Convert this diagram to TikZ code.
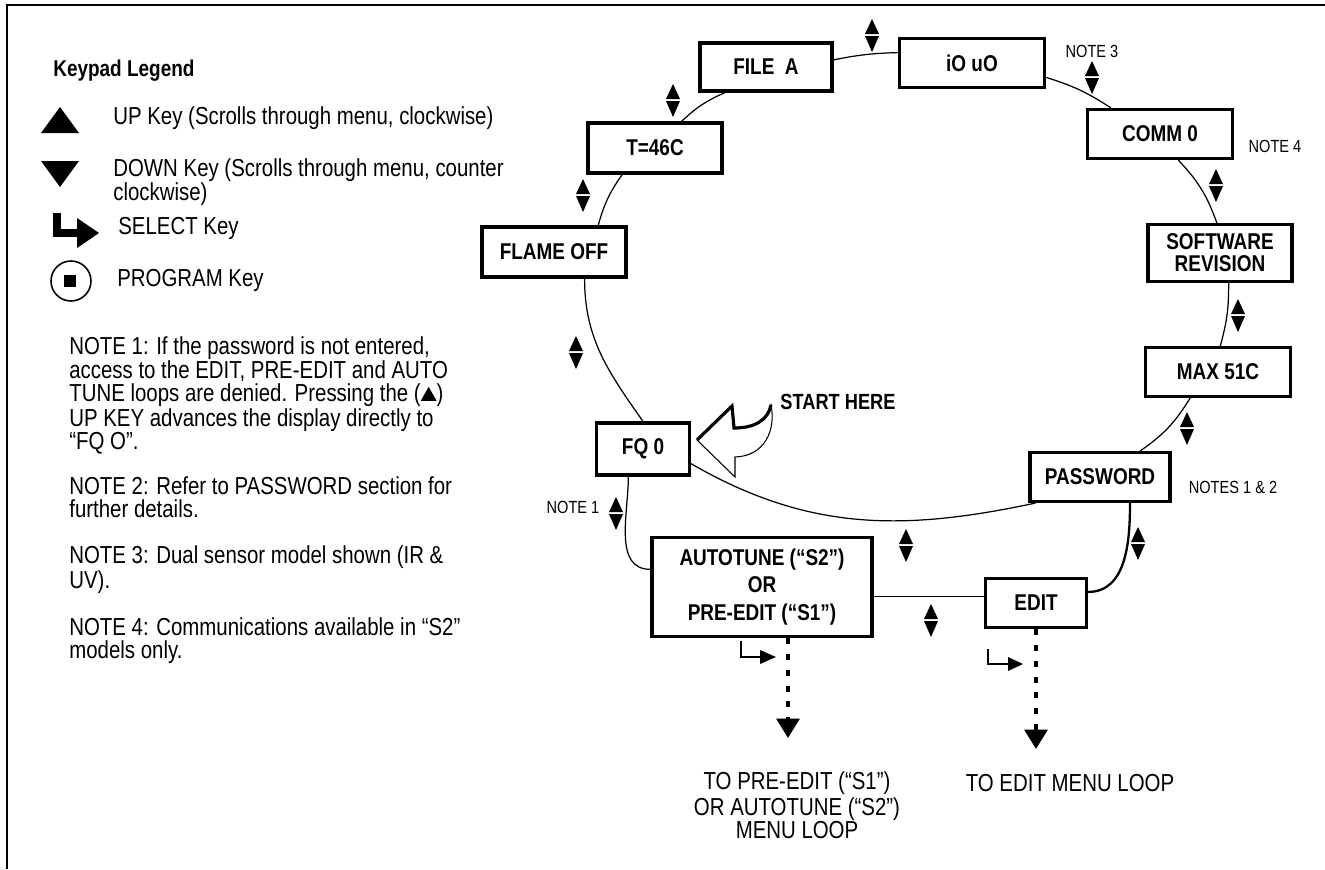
\documentclass[tikz,border=0pt]{standalone}
\usepackage{fontspec}
\setmainfont{Liberation Sans}[FakeStretch=0.83]
\usetikzlibrary{arrows.meta}
\tikzset{updown/.pic={
    \fill (-7,1) -- (7,1) -- (0,16) -- cycle;
    \fill (-7,-1) -- (7,-1) -- (0,-17) -- cycle;}}
\begin{document}
\begin{tikzpicture}[x=0.02cm,y=0.02cm]
        \tikzstyle{disp} = [rectangle, draw=black, line width=1.8pt, inner sep=0pt, align=center, font=\fontsize{13}{15}\selectfont\bfseries]
        \tikzstyle{loop} = [line width=0.7pt]
        \tikzstyle{note} = [font=\fontsize{10}{12}\selectfont]
        \tikzstyle{txt} = [font=\fontsize{14}{13}\selectfont, align=left, inner sep=0pt]
        \tikzstyle{togo} = [line width=2pt, dash pattern=on 3.5pt off 5.5pt, -{Triangle[width=13pt,length=11pt]}]
        \useasboundingbox (0,0) rectangle (1325,-869);
        \draw[line width=1.2pt] (7,-869) -- (7,-5) -- (1325,-5);
        % legend
        \node (leg) [txt, anchor=west, font=\fontsize{13}{13}\selectfont\bfseries] at (53,-71) {Keypad Legend};
        \fill (41,-133) -- (79,-133) -- (60,-107) -- cycle;
        \node (upk) [txt, anchor=west] at (113,-118) {UP Key (Scrolls through menu, clockwise)};
        \fill (41,-161) -- (79,-161) -- (60,-187) -- cycle;
        \node (dnk) [txt, anchor=west, font=\fontsize{14}{12}\selectfont] at (113,-182) {DOWN Key (Scrolls through menu, counter\\clockwise)};
        \draw[line width=4pt] (57,-213) |- (80,-233);
        \fill (77,-218) -- (99,-233) -- (77,-248) -- cycle;
        \node (selk) [txt, anchor=west] at (118,-228) {SELECT Key};
        \draw[line width=0.9pt] (71,-281) circle (0.4cm);
        \fill (64,-275) rectangle (76,-287);
        \node (prgk) [txt, anchor=west] at (117,-280) {PROGRAM Key};
        \node (notes) [txt, anchor=north west] at (69,-336) {NOTE 1: If the password is not entered,\\
            access to the EDIT, PRE-EDIT and AUTO\\
            TUNE loops are denied. Pressing the (\raisebox{0.5pt}{\tikz\fill (0,0) -- (9pt,0) -- (4.5pt,8pt) -- cycle;})\\
            UP KEY advances the display directly to\\
            “FQ O”.\\[13pt]
            NOTE 2: Refer to PASSWORD section for\\
            further details.\\[13pt]
            NOTE 3: Dual sensor model shown (IR \&\\
            UV).\\[13pt]
            NOTE 4: Communications available in “S2”\\
            models only.};
        % menu loop
        \node (fa) [disp, minimum width=2.64cm, minimum height=0.96cm] at (766,-67) {FILE\ \ A};
        \node (io) [disp, minimum width=2.9cm, minimum height=0.98cm] at (972,-63) {iO uO};
        \node (t46) [disp, minimum width=2.68cm, minimum height=1.0cm] at (655,-148) {T=46C};
        \node (comm) [disp, minimum width=2.9cm, minimum height=0.98cm] at (1160,-134) {COMM 0};
        \node (sw) [disp, minimum width=2.88cm, minimum height=1.14cm, font=\fontsize{13}{12.5}\selectfont\bfseries] at (1220,-253) {SOFTWARE\\REVISION};
        \node (max) [disp, minimum width=2.9cm, minimum height=0.98cm] at (1218,-372) {MAX 51C};
        \node (pw) [disp, minimum width=2.8cm, minimum height=0.98cm] at (1100,-477) {PASSWORD};
        \node (edit) [disp, minimum width=2.02cm, minimum height=0.98cm] at (1036,-603) {EDIT};
        \node (flame) [disp, minimum width=2.88cm, minimum height=1.0cm] at (554,-252) {FLAME OFF};
        \node (fq) [disp, minimum width=1.86cm, minimum height=1.04cm] at (643,-449) {FQ 0};
        \node (auto) [disp, minimum width=4.4cm, minimum height=1.98cm, font=\fontsize{13}{15.5}\selectfont\bfseries] at (762,-587) {AUTOTUNE (“S2”)\\OR\\PRE-EDIT (“S1”)};
        \draw[loop] (fq.north) to[out=125,in=-90] (flame.319);
        \draw[loop] (flame.31) to[bend left=10] (t46.219);
        \draw[loop] (t46.45) to[bend left=10] (fa.212);
        \draw[loop] (fa.6) to[bend left=5] (io.172);
        \draw[loop] (io.-11) to[bend left=8] (comm.152);
        \draw[loop] (comm.-55) to[bend left=12] (sw.96);
        \draw[loop] (sw.-74) to[bend left=8] (max.85);
        \draw[loop] (max.223) to[bend left=12] (pw.33);
        \draw[loop] (pw.202) to[out=192,in=-30] (fq.-17);
        \draw[loop] (fq.242) to[out=-90,in=180] (auto.171);
        \draw[loop] (auto.-5) -- (auto.-5 -| edit.west);
        \draw[line width=1.3pt] (pw.-41) to[out=-90,in=0] (edit.12);
        % scroll keys
        \pic at (872,-35) {updown};
        \pic at (673,-100) {updown};
        \pic at (583,-195) {updown};
        \pic at (576,-352) {updown};
        \pic at (1092,-77) {updown};
        \pic at (1216,-185) {updown};
        \pic at (1238,-315) {updown};
        \pic at (1187,-428) {updown};
        \pic at (1138,-543) {updown};
        \pic at (616,-513) {updown};
        \pic at (906,-545) {updown};
        \pic at (931,-620) {updown};
        % notes
        \node (n3) [note] at (1092,-51) {NOTE 3};
        \node (n4) [note] at (1275,-146) {NOTE 4};
        \node (n12) [note] at (1233,-487) {NOTES 1 \& 2};
        \node (n1) [note] at (573,-507) {NOTE 1};
        % start here
        \node (sh) [font=\fontsize{12.5}{13}\selectfont\bfseries] at (838,-402) {START HERE};
        \filldraw[fill=white, line width=0.6pt] (697,-440) -- (732,-406) -- (734,-428) .. controls (755,-428) and (768,-420) .. (771,-405) .. controls (776,-430) and (765,-456) .. (735,-457) -- (735,-477) -- cycle;
        \draw[line width=1.8pt, line join=miter] (697,-440) -- (732,-406) -- (734,-428) .. controls (755,-428) and (768,-420) .. (771,-405);
        % select to sub loops
        \coordinate (peend) at (788,-738);
        \coordinate (edend) at (1036,-749);
        \draw[togo] (auto.south -| peend) -- (peend);
        \draw[togo] (edit.south) -- (edend);
        \draw[line width=0.8pt] (741,-641) |- (762,-657);
        \fill (760,-650) -- (776,-657) -- (760,-664) -- cycle;
        \draw[line width=0.8pt] (988,-649) |- (1010,-664);
        \fill (1008,-657) -- (1023,-664) -- (1008,-671) -- cycle;
        \node (pe) [txt, align=center] at (797,-805) {TO PRE-EDIT (“S1”)\\[1pt]OR AUTOTUNE (“S2”)\\MENU LOOP};
        \node (ed) [txt] at (1070,-783) {TO EDIT MENU LOOP};
\end{tikzpicture}
\end{document}
